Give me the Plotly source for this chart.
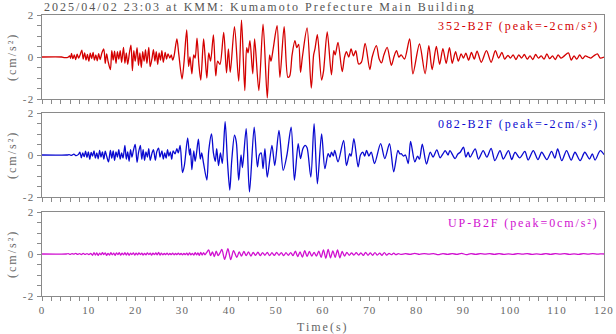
import plotly.graph_objects as go

TITLE = "2025/04/02 23:03 at KMM: Kumamoto Prefecture Main Building"
CHANNELS = ["352-B2F (peak=-2cm/s²)",
            "082-B2F (peak=-2cm/s²)",
            "UP-B2F (peak=0cm/s²)"]
COLORS = ["#d40000", "#0a0ad0", "#d010d0"]
Y_UNIT = "(cm/s²)"
X_TITLE = "Time(s)"
X_TICKS = [0, 10, 20, 30, 40, 50, 60, 70, 80, 90, 100, 110, 120]
X_TICK_LABELS = ["0", "10", "20", "30", "40", "50", "60", "70", "80", "90", "100", "110", "120"]
Y_TICKS = [-2, 0, 2]
Y_TICK_LABELS = ["-2", "0", "2"]

# (time s, acceleration cm/s^2) read from the record
wave_352 = [(0, 0), (4.2, 0), (4.8, -0.03), (5.5, -0.02), (5.9, 0.05), (6.1, -0.06), (6.3, 0.17), (6.6, -0.08),
            (6.9, 0.10), (7.2, -0.12), (7.5, 0.14), (7.8, -0.05), (8.1, 0.08), (8.5, 0.33), (8.8, -0.10),
            (9.1, 0.20), (9.4, -0.15), (9.7, 0.12), (10.0, -0.20), (10.3, 0.18), (10.6, -0.08), (10.9, 0.22),
            (11.2, -0.15), (11.5, 0.10), (11.8, -0.18), (12.1, 0.16), (12.4, -0.12), (12.8, 0.20), (13.2, 0.38),
            (13.5, -0.30), (13.8, 0.15), (14.1, -0.20), (14.6, -0.60), (14.9, 0.30), (15.2, -0.15), (15.5, 0.28),
            (15.8, -0.30), (16.1, 0.25), (16.4, -0.10), (16.7, 0.30), (17.0, -0.25), (17.4, 0.46), (17.7, -0.30),
            (18.0, 0.20), (18.3, -0.35), (18.7, 0.25), (19.0, 0.57), (19.3, -0.65), (19.6, 0.30), (19.9, -0.20),
            (20.3, 0.45), (20.6, -0.40), (20.9, 0.20), (21.2, -0.50), (21.5, 0.25), (21.8, -0.20), (22.1, 0.35),
            (22.4, -0.30), (22.8, 0.46), (23.1, -0.46), (23.5, -0.05), (23.8, 0.35), (24.1, -0.20), (24.4, 0.25),
            (24.7, -0.35), (25.0, 0.20), (25.3, -0.15), (25.6, 0.30), (25.9, -0.25), (26.3, 0.22), (26.6, -0.10),
            (26.9, 0.15), (27.3, -0.05), (27.6, 0.10), (27.9, -0.15), (28.2, 0.05), (28.8, 0.86), (29.2, 0.15),
            (29.9, -1.05), (30.3, -0.30), (30.9, 1.29), (31.3, -0.45), (31.6, 0.0), (32.0, -0.80), (32.4, 0.10),
            (32.7, -0.05), (33.1, 0.90), (33.5, -0.35), (33.9, -1.10), (34.5, 0.86), (34.8, 0.10), (35.2, -1.00),
            (35.6, 0.20), (36.0, -0.20), (36.6, 1.05), (37.1, -0.90), (37.5, -0.20), (38.0, -0.35), (38.8, 1.17),
            (39.4, -0.75), (39.8, 0.38), (40.2, -0.73), (41.1, 1.44), (42.0, -1.15), (42.6, 1.76), (43.3, -1.60),
            (43.7, 0.45), (44.0, 0.20), (44.4, 0.78), (45.0, -0.80), (45.4, 0.86), (46.3, -1.60), (47.2, 1.57),
            (48.1, -1.95), (48.6, 0.10), (48.9, -0.20), (49.4, 0.45), (50.2, 1.49), (50.8, -0.97), (51.7, 1.44),
            (52.5, -0.97), (52.9, -0.90), (53.4, 0.10), (54.0, 0.78), (54.4, 0.45), (54.8, 0.60), (55.2, -0.73),
            (55.6, 0.0), (56.6, 1.38), (57.5, -1.48), (58.0, 0.10), (58.3, 0.40), (58.8, 1.06), (59.7, -1.10),
            (60.1, -0.70), (60.9, 1.20), (61.8, -0.85), (62.3, 0.30), (62.6, 0.10), (63.2, 0.70), (64.1, -0.70),
            (64.6, 0.0), (65.0, 0.25), (65.5, 0.0), (66.0, 0.38), (66.5, 0.05), (67.0, 0.30), (67.6, -0.33),
            (68.2, -0.25), (69.0, 0.65), (70.0, -0.60), (70.5, 0.0), (71.4, 0.54), (72.0, -0.10), (72.5, -0.28),
            (73.0, 0.10), (73.7, 0.46), (74.6, -0.40), (75.2, 0.05), (75.7, 0.30), (76.2, 0.0), (76.7, 0.10),
            (77.4, -0.10), (78.5, 0.86), (79.2, -0.80), (80.6, 0.62), (81.8, -0.80), (82.6, 0.54), (83.3, -0.60),
            (84.2, 0.50), (84.9, -0.35), (85.6, 0.40), (86.3, -0.30), (87.0, 0.45), (87.6, -0.30), (88.3, 0.25),
            (88.9, -0.20), (89.5, 0.15), (90.0, -0.05), (90.5, 0.18), (91.1, -0.15), (91.7, 0.22), (92.3, -0.10),
            (92.9, 0.28), (93.8, -0.25), (94.9, 0.30), (95.9, -0.25), (96.8, 0.30), (97.5, -0.05), (98.2, 0.22),
            (98.8, -0.10), (99.5, 0.08), (100.0, -0.05), (100.6, 0.10), (101.2, -0.12), (101.8, 0.10),
            (102.4, -0.05), (103.0, 0.12), (103.6, -0.10), (104.2, 0.05), (104.8, -0.12), (105.4, 0.12),
            (106.0, -0.05), (106.6, 0.05), (107.2, -0.10), (107.8, 0.15), (108.4, -0.08), (109.0, 0.05),
            (109.6, -0.12), (110.2, 0.10), (110.8, -0.05), (111.4, 0.03), (112.4, 0.20), (113.0, -0.15),
            (113.6, 0.05), (114.2, -0.10), (114.8, 0.10), (115.4, -0.08), (116.0, 0.05), (116.6, 0.0),
            (117.2, -0.05), (117.8, 0.05), (118.6, 0.15), (119.2, -0.05), (120.0, 0.0)]

wave_082 = [(0, 0), (5.3, 0), (5.8, 0.02), (6.3, -0.02), (6.8, 0.04), (7.3, -0.03), (7.8, 0.03), (8.1, 0.14),
            (8.4, -0.13), (8.7, 0.10), (9.0, -0.08), (9.3, 0.18), (9.6, -0.12), (9.9, 0.15), (10.2, -0.20),
            (10.5, 0.12), (10.8, -0.05), (11.1, 0.20), (11.4, -0.15), (11.7, 0.10), (12.0, -0.18), (12.3, 0.22),
            (12.6, -0.10), (12.9, 0.15), (13.2, -0.20), (13.5, 0.18), (13.8, -0.05), (14.2, -0.33), (14.6, 0.22),
            (14.9, -0.15), (15.2, 0.20), (15.5, -0.25), (15.8, 0.15), (16.1, -0.10), (16.4, 0.25), (16.7, -0.20),
            (17.0, 0.10), (17.3, -0.15), (17.7, 0.46), (18.0, -0.20), (18.3, 0.15), (18.6, -0.30), (18.9, 0.25),
            (19.2, -0.10), (19.5, 0.20), (19.9, 0.50), (20.3, -0.35), (20.6, 0.10), (21.0, 0.46), (21.3, -0.20),
            (21.6, 0.25), (21.9, -0.25), (22.2, 0.15), (22.5, -0.10), (22.8, 0.30), (23.1, -0.25), (23.5, 0.10),
            (23.8, 0.25), (24.2, -0.25), (24.5, 0.15), (24.9, 0.33), (25.2, -0.10), (25.6, 0.20), (25.9, -0.20),
            (26.2, 0.10), (26.5, -0.15), (26.8, 0.25), (27.1, -0.05), (27.4, 0.15), (27.7, -0.20), (28.0, 0.20),
            (28.4, 0.05), (28.8, 0.30), (29.1, 0.10), (29.5, 0.46), (30.0, -0.84), (30.4, -0.50), (31.1, 0.82),
            (31.5, 0.0), (31.7, 0.30), (32.0, -0.70), (32.4, 0.20), (32.7, -0.30), (33.0, 0.10), (33.4, 0.75),
            (33.8, -0.20), (34.1, 0.10), (34.5, -0.40), (35.2, -1.19), (35.6, 0.20), (36.2, 1.00), (36.6, 0.10),
            (37.0, -0.30), (37.3, 0.30), (37.7, -0.50), (38.1, 0.10), (38.5, -0.40), (39.1, 1.59), (39.6, -0.30),
            (40.1, -1.67), (40.5, -0.30), (41.1, 0.94), (41.5, 0.60), (42.0, -1.20), (42.5, 0.00), (42.8, -0.60),
            (43.6, 1.25), (44.3, -1.76), (45.3, 1.33), (46.0, -0.57), (46.4, 0.0), (46.8, 0.10), (47.2, -0.65),
            (47.6, 0.30), (48.1, -1.05), (49.1, 0.46), (49.7, -0.50), (50.6, 1.17), (51.5, -0.73), (52.3, 0.0),
            (53.2, 1.33), (53.9, -1.20), (54.7, 0.54), (55.2, -0.17), (55.7, 0.30), (56.2, 0.46), (56.6, 0.35),
            (57.4, -1.05), (58.1, 1.49), (58.8, -1.37), (59.7, 1.00), (60.4, -0.65), (61.1, 0.06), (61.5, -0.10),
            (61.8, 0.14), (62.2, -0.05), (62.5, 0.22), (63.2, -0.33), (64.4, 0.70), (65.0, -0.50), (65.7, 0.06),
            (66.0, -0.05), (66.6, 0.78), (67.5, -0.57), (68.0, 0.0), (68.5, 0.14), (68.9, -0.05), (69.3, 0.22),
            (69.8, -0.05), (70.3, 0.14), (71.0, -0.41), (72.3, 0.54), (73.2, -0.17), (74.2, 0.54), (75.1, -0.80),
            (76.0, 0.22), (76.4, 0.05), (76.7, 0.06), (77.2, -0.05), (77.6, 0.0), (78.2, -0.41), (78.7, 0.65),
            (79.6, -0.33), (80.2, -0.05), (80.6, -0.20), (81.2, 0.52), (82.1, -0.43), (82.9, 0.14), (83.5, -0.10),
            (84.3, 0.24), (85.0, -0.13), (85.6, 0.05), (86.1, 0.21), (86.7, 0.0), (87.1, 0.21), (88.2, -0.17),
            (88.8, 0.05), (89.3, 0.13), (90.0, 0.37), (90.5, -0.10), (91.0, 0.13), (91.4, -0.10), (92.5, 0.29),
            (93.2, -0.19), (94.2, 0.21), (95.0, -0.10), (95.9, 0.32), (96.7, -0.27), (97.8, 0.21), (98.5, -0.19),
            (99.6, 0.21), (100.3, -0.22), (101.0, 0.13), (102.0, -0.14), (103.1, 0.17), (103.8, -0.24),
            (104.9, 0.21), (105.9, -0.22), (106.7, 0.13), (107.8, -0.22), (108.8, 0.17), (109.5, -0.15),
            (110.1, 0.29), (111.0, -0.27), (112.0, 0.21), (113.0, -0.24), (113.8, 0.13), (114.9, -0.27),
            (115.9, 0.13), (116.9, -0.19), (117.5, 0.05), (118.1, -0.24), (119.2, 0.21), (120.0, 0.02)]

wave_up = [(0, 0), (5.2, 0), (5.6, 0.02), (6.0, -0.02), (6.4, 0.02), (6.8, -0.01), (7.2, 0.03), (7.6, -0.02),
           (8.0, 0.02), (8.4, -0.03), (8.8, 0.03), (9.2, -0.02), (9.6, 0.02), (10.0, -0.03), (10.4, 0.03),
           (10.8, -0.06), (11.1, 0.07), (11.4, -0.05), (11.7, 0.05), (12.0, -0.07), (12.3, 0.04), (12.6, -0.04),
           (12.9, 0.06), (13.2, -0.03), (13.5, 0.05), (13.8, -0.06), (14.1, 0.03), (14.4, -0.05), (14.7, 0.06),
           (15.0, -0.04), (15.3, 0.04), (15.6, -0.06), (15.9, 0.05), (16.2, -0.03), (16.5, 0.06), (16.8, -0.05),
           (17.1, 0.04), (17.4, -0.04), (17.7, 0.07), (18.0, -0.05), (18.3, 0.05), (18.6, -0.06), (18.9, 0.04),
           (19.2, -0.03), (19.5, 0.05), (19.8, -0.05), (20.1, 0.04), (20.4, -0.04), (20.7, 0.05), (21.0, -0.03),
           (21.3, 0.04), (21.6, -0.05), (21.9, 0.03), (22.2, -0.04), (22.5, 0.05), (22.8, -0.03), (23.1, 0.04),
           (23.4, -0.05), (23.7, 0.04), (24.0, -0.03), (24.3, 0.05), (24.6, -0.04), (24.9, 0.08), (25.2, -0.05),
           (25.5, 0.04), (25.8, -0.04), (26.1, 0.03), (26.4, -0.03), (26.7, 0.04), (27.0, -0.04), (27.3, 0.03),
           (27.6, -0.03), (27.9, 0.04), (28.2, -0.04), (28.5, 0.03), (28.8, -0.03), (29.1, 0.04), (29.4, -0.03),
           (29.7, 0.03), (30.0, -0.04), (30.3, 0.03), (30.6, -0.03), (30.9, 0.04), (31.2, -0.05), (31.5, 0.05),
           (31.8, -0.04), (32.1, 0.03), (32.4, -0.05), (32.7, 0.06), (33.0, -0.04), (33.3, 0.05), (33.6, -0.06),
           (33.9, 0.08), (34.2, -0.05), (34.5, 0.07), (34.8, -0.04), (35.1, 0.05), (35.6, 0.19), (36.0, -0.08),
           (36.4, 0.10), (36.8, -0.12), (37.2, 0.14), (37.6, -0.08), (38.0, 0.05), (38.4, 0.22), (39.0, -0.25),
           (39.7, 0.25), (40.3, -0.27), (40.9, 0.16), (41.6, -0.16), (42.1, 0.10), (42.6, -0.10), (43.1, 0.12),
           (43.6, -0.08), (44.1, 0.10), (44.6, -0.10), (45.1, 0.08), (45.6, -0.07), (46.1, 0.09), (46.6, -0.08),
           (47.1, 0.07), (47.6, -0.06), (48.1, 0.08), (48.6, -0.08), (49.1, 0.06), (49.6, -0.07), (50.1, 0.08),
           (50.6, -0.06), (51.1, 0.07), (51.6, -0.08), (52.1, 0.06), (52.6, -0.06), (53.1, 0.07), (53.6, -0.08),
           (54.1, 0.14), (54.6, -0.12), (55.1, 0.10), (55.6, -0.15), (56.1, 0.16), (56.6, -0.12), (57.1, 0.12),
           (57.6, -0.10), (58.1, 0.08), (58.6, -0.10), (59.1, 0.14), (59.6, -0.16), (60.1, 0.20), (60.6, -0.20),
           (61.1, 0.22), (61.6, -0.18), (62.1, 0.15), (62.6, -0.16), (63.1, 0.20), (63.6, -0.18), (64.1, 0.12),
           (64.6, -0.10), (65.1, 0.08), (65.6, -0.06), (66.1, 0.05), (66.6, -0.05), (67.1, 0.06), (67.6, -0.05),
           (68.1, 0.05), (68.6, -0.07), (69.1, 0.08), (69.6, -0.06), (70.1, 0.05), (70.6, -0.06), (71.1, 0.07),
           (71.6, -0.05), (72.1, 0.04), (72.6, -0.06), (73.1, 0.07), (73.6, -0.05), (74.1, 0.03), (74.6, -0.03),
           (75.1, 0.04), (75.6, -0.03), (76.1, 0.02), (76.6, -0.02), (77.6, 0.02), (78.6, -0.02), (79.6, 0.03),
           (80.6, -0.02), (81.6, 0.02), (82.6, -0.01), (83.6, 0.02), (84.6, -0.03), (85.6, 0.02), (86.6, -0.02),
           (87.6, 0.02), (88.6, -0.02), (89.6, 0.03), (90.6, -0.03), (91.6, 0.02), (92.6, -0.02), (93.6, 0.02),
           (94.6, -0.01), (95.6, 0.02), (96.6, -0.02), (97.6, 0.02), (98.6, -0.02), (99.6, 0.01), (100.6, -0.02),
           (101.6, 0.02), (102.6, -0.01), (103.6, 0.02), (104.6, -0.02), (105.6, 0.01), (106.6, -0.02),
           (107.6, 0.02), (108.6, -0.02), (109.6, 0.02), (110.6, -0.01), (111.6, 0.02), (112.6, -0.02),
           (113.6, 0.01), (114.6, -0.02), (115.6, 0.02), (116.6, -0.01), (117.6, 0.02), (118.6, -0.01),
           (119.6, 0.01), (120.0, 0)]

WAVES = [wave_352, wave_082, wave_up]

FONT = "Liberation Serif, Times New Roman, serif"
AXIS_COLOR = "#8a8a8a"
TEXT_GRAY = "#666666"


def spaced(s, px=2):
    return f'<span style="letter-spacing:{px}px">{s}</span>'


# pixel layout: plot area 42..604 x 15..296 (height 281)
H = 281.0
DOMAINS = [((296 - 99) / H, 1.0), ((296 - 197) / H, (296 - 113) / H), (0.0, (296 - 212) / H)]

fig = go.Figure()
for i, (wave, color) in enumerate(zip(WAVES, COLORS)):
    sfx = "" if i == 0 else str(i + 1)
    fig.add_trace(go.Scatter(
        x=[p[0] for p in wave], y=[p[1] for p in wave], mode="lines",
        line=dict(color=color, width=1.3, shape="spline", smoothing=0.8),
        xaxis="x" + sfx, yaxis="y" + sfx, showlegend=False, hoverinfo="skip"))

layout = dict(
    width=616, height=334,
    margin=dict(l=42, r=12, t=15, b=38, autoexpand=False),
    paper_bgcolor="white", plot_bgcolor="white",
    font=dict(family=FONT, size=12, color=TEXT_GRAY),
    annotations=[],
)
for i in range(3):
    sfx = "" if i == 0 else str(i + 1)
    layout["xaxis" + sfx] = dict(
        domain=[0, 1], anchor="y" + sfx, range=[0, 120], automargin=False,
        showline=True, mirror=True, linecolor=AXIS_COLOR, linewidth=1,
        showgrid=False, zeroline=False,
        ticks="outside", ticklen=4, tickcolor=AXIS_COLOR, tickwidth=1,
        tickvals=X_TICKS, ticktext=[spaced(s, 1.2) for s in X_TICK_LABELS],
        showticklabels=(i == 2),
        tickfont=dict(family=FONT, size=11, color=TEXT_GRAY),
        minor=dict(dtick=2, ticks="outside", ticklen=4, tickcolor=AXIS_COLOR, tickwidth=1, showgrid=False),
    )
    layout["yaxis" + sfx] = dict(
        domain=list(DOMAINS[i]), anchor="x" + sfx, range=[-2, 2], automargin=False,
        showline=True, mirror=True, linecolor=AXIS_COLOR, linewidth=1,
        showgrid=False, zeroline=False,
        ticks="outside", ticklen=4, tickcolor=AXIS_COLOR, tickwidth=1,
        tickvals=Y_TICKS, ticktext=[spaced(s, 1.5) for s in Y_TICK_LABELS],
        tickfont=dict(family=FONT, size=11, color=TEXT_GRAY),
        minor=dict(dtick=0.5, ticks="outside", ticklen=4, tickcolor=AXIS_COLOR, tickwidth=1, showgrid=False),
    )
    layout["annotations"].append(dict(
        text=spaced(CHANNELS[i], 1.9), xref="x" + sfx + " domain", yref="y" + sfx + " domain",
        x=1, y=1, xanchor="right", yanchor="top", xshift=-3, yshift=-2, showarrow=False,
        font=dict(family=FONT, size=12, color=COLORS[i])))
    layout["annotations"].append(dict(
        text=spaced(Y_UNIT, 2), xref="paper", yref="y" + sfx + " domain",
        x=0, y=0.5, xanchor="center", yanchor="middle", xshift=-30, textangle=-90, showarrow=False,
        font=dict(family=FONT, size=12, color=TEXT_GRAY)))

layout["annotations"].append(dict(
    text=spaced(TITLE, 2), xref="paper", yref="paper", x=0, y=1, xanchor="left", yanchor="middle",
    yshift=8, showarrow=False, font=dict(family=FONT, size=12, color="#555555")))
layout["annotations"].append(dict(
    text=spaced(X_TITLE, 2), xref="paper", yref="paper", x=0.5, y=0, xanchor="center", yanchor="middle",
    yshift=-31, showarrow=False, font=dict(family=FONT, size=12, color=TEXT_GRAY)))

fig.update_layout(**layout)
fig.write_html("out.html", config={"displayModeBar": False},
               post_script="document.body.style.margin='0';")
